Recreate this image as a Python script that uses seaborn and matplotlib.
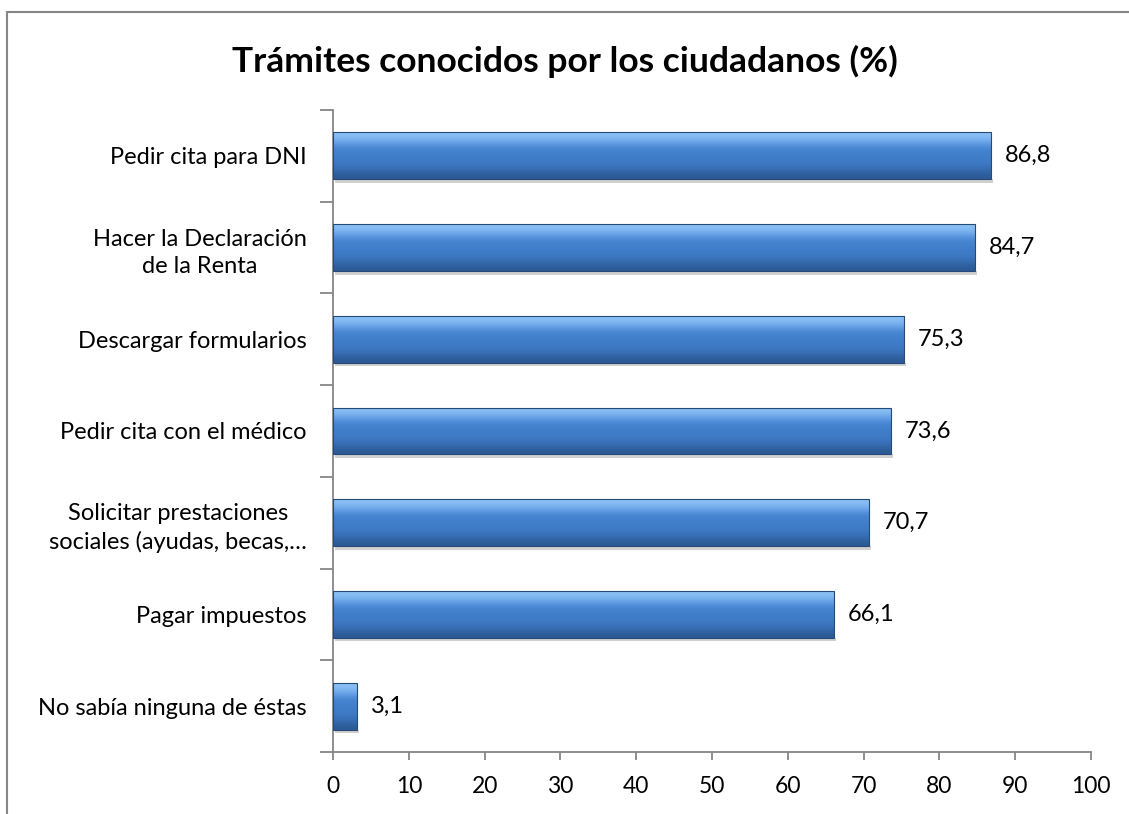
import numpy as np
import pandas as pd
import matplotlib
matplotlib.use("Agg")
import matplotlib.pyplot as plt
import seaborn as sns
from matplotlib.lines import Line2D


categories = [
    "Pedir cita para DNI",
    "Hacer la Declaración\nde la Renta",
    "Descargar formularios",
    "Pedir cita con el médico",
    "Solicitar prestaciones\nsociales (ayudas, becas,…",
    "Pagar impuestos",
    "No sabía ninguna de éstas",
]
values = [86.8, 84.7, 75.3, 73.6, 70.7, 66.1, 3.1]
value_labels = ["86,8", "84,7", "75,3", "73,6", "70,7", "66,1", "3,1"]
x_ticks = list(range(0, 101, 10))

TITLE = "Trámites conocidos por los ciudadanos (%)"
GRAY = "#868686"


def add_bevel(ax, patch):
    # fake the Excel bevel look with a vertical gradient clipped to the bar
    x0, y0 = patch.get_x(), patch.get_y()
    w, h = patch.get_width(), patch.get_height()
    grad = np.array([
        [0.55, 0.76, 0.96],
        [0.45, 0.67, 0.93],
        [0.30, 0.54, 0.84],
        [0.26, 0.50, 0.80],
        [0.25, 0.49, 0.79],
        [0.24, 0.47, 0.76],
        [0.21, 0.42, 0.69],
        [0.17, 0.35, 0.58],
    ])
    img = grad[:, None, :]
    # y axis is inverted, so top of bar is y0
    im = ax.imshow(img, extent=(x0, x0 + w, y0 + h, y0), aspect="auto",
                   interpolation="bicubic", zorder=3)
    im.set_clip_path(patch)
    patch.set_edgecolor("#254a78")
    patch.set_linewidth(0.8)
    patch.set_zorder(4)
    patch.set_facecolor("none")
    # soft shadow under the bar
    ax.add_patch(plt.Rectangle((x0 + 0.3, y0 + h), w, 0.04,
                               color="#d0d0d0", zorder=2, lw=0))


def main():
    sns.set_theme(style="white")
    plt.rcParams["font.family"] = ["Lato", "DejaVu Sans"]

    df = pd.DataFrame({"tramite": categories, "valor": values})

    fig = plt.figure(figsize=(11.29, 8.14), dpi=100)
    ax = fig.add_axes([0.295, 0.0762, 0.6714, 0.7887])

    sns.barplot(data=df, y="tramite", x="valor", orient="h", width=0.51,
                color="#3e78c0", ax=ax, saturation=1)

    ax.set_xlim(0, 100)
    ax.set_ylim(len(categories) - 0.5, -0.5)
    ax.set_xticks(x_ticks)
    ax.set_xticklabels([str(t) for t in x_ticks], fontsize=16.5, color="black")
    ax.set_xlabel("")
    ax.set_ylabel("")

    ax.set_yticks(range(len(categories)))
    ax.set_yticklabels(categories, fontsize=17, color="black",
                       multialignment="center", linespacing=1.4)
    ax.tick_params(axis="y", length=0, pad=19)
    ax.tick_params(axis="x", length=6, width=1.3, color=GRAY, direction="out",
                   pad=11, bottom=True)

    # category separator ticks on the y axis
    ax.set_yticks(np.arange(-0.5, len(categories), 1.0), minor=True)
    ax.tick_params(axis="y", which="minor", length=9.5, width=1.3, color=GRAY,
                   direction="out", left=True)

    for side in ["top", "right"]:
        ax.spines[side].set_visible(False)
    for side in ["left", "bottom"]:
        ax.spines[side].set_color(GRAY)
        ax.spines[side].set_linewidth(1.3)

    for patch in list(ax.patches):
        add_bevel(ax, patch)

    for i, (v, lab) in enumerate(zip(values, value_labels)):
        ax.annotate(lab, xy=(v, i), xytext=(10, 0), textcoords="offset points",
                    va="center", ha="left", fontsize=17, color="black")

    fig.text(0.5, 0.924, TITLE, ha="center", va="center", fontsize=25.5,
             fontweight="bold", color="black")

    # outer chart border (cut off on right and bottom in the original)
    fig.add_artist(Line2D([7 / 1129, 7 / 1129], [0, 1 - 11.5 / 814],
                          transform=fig.transFigure, color=GRAY, lw=1.5))
    fig.add_artist(Line2D([7 / 1129, 1], [1 - 11.5 / 814, 1 - 11.5 / 814],
                          transform=fig.transFigure, color=GRAY, lw=1.5))

    fig.savefig("out.png", dpi=100)


if __name__ == "__main__":
    main()
